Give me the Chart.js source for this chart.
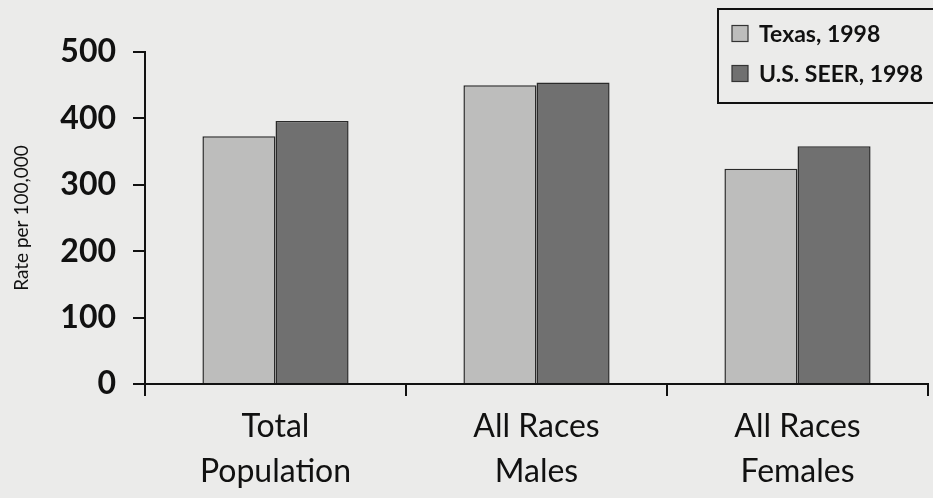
<!DOCTYPE html>
<html>
<head>
<meta charset="utf-8">
<script src="https://cdn.jsdelivr.net/npm/chart.js@4.4.1/dist/chart.umd.min.js"></script>
<style>
  html, body { margin: 0; padding: 0; background: #ebebea; overflow: hidden; }
  #wrap { width: 933px; height: 498px; }
</style>
</head>
<body>
<div id="wrap"><canvas id="c" width="933" height="498"></canvas></div>
<script>
const categories = [["Total", "Population"], ["All Races", "Males"], ["All Races", "Females"]];
const seriesNames = ["Texas, 1998", "U.S. SEER, 1998"];
const texasValues = [373, 450, 324];
const seerValues = [396, 454, 358];
const yTicks = [0, 100, 200, 300, 400, 500];
const yTitle = "Rate per 100,000";

const FONT = "Lato, 'Open Sans', sans-serif";
const INK = "#111111";

const bgPlugin = {
  id: "bg",
  beforeDraw(chart) {
    const ctx = chart.ctx;
    ctx.save();
    ctx.fillStyle = "#ebebea";
    ctx.fillRect(0, 0, chart.width, chart.height);
    ctx.restore();
  }
};

const legendBox = {
  id: "legendBox",
  afterDraw(chart) {
    const ctx = chart.ctx;
    ctx.save();
    ctx.fillStyle = "#ebebea";
    ctx.fillRect(718, 9, 260, 94);
    ctx.strokeStyle = INK;
    ctx.lineWidth = 2;
    ctx.beginPath();
    ctx.moveTo(chart.width + 5, 9);
    ctx.lineTo(718, 9);
    ctx.lineTo(718, 103);
    ctx.lineTo(chart.width + 5, 103);
    ctx.stroke();
    chart.data.datasets.forEach((ds, i) => {
      const cy = 33.5 + i * 40;
      ctx.fillStyle = ds.backgroundColor;
      ctx.fillRect(732, cy - 8, 16, 16);
      ctx.strokeStyle = "#333";
      ctx.lineWidth = 1.2;
      ctx.strokeRect(732, cy - 8, 16, 16);
      ctx.fillStyle = INK;
      ctx.font = "bold 23px " + FONT;
      ctx.textBaseline = "middle";
      ctx.textAlign = "left";
      ctx.fillText(ds.label, 759, cy + 1);
    });
    ctx.restore();
  }
};

new Chart(document.getElementById("c"), {
  type: "bar",
  data: {
    labels: categories,
    datasets: [
      { label: seriesNames[0], data: texasValues, backgroundColor: "#bdbdbc", borderColor: "#2a2a2a", borderWidth: 1.5 },
      { label: seriesNames[1], data: seerValues, backgroundColor: "#707070", borderColor: "#2a2a2a", borderWidth: 1.5 }
    ]
  },
  options: {
    responsive: false,
    animation: false,
    layout: { padding: { top: 52, right: 5, left: 0, bottom: 0 } },
    datasets: { bar: { categoryPercentage: 0.56, barPercentage: 1.0 } },
    plugins: { legend: { display: false }, tooltip: { enabled: false } },
    scales: {
      x: {
        offset: true,
        grid: { offset: true, drawOnChartArea: false, drawTicks: true, tickLength: 12, color: INK, lineWidth: 2 },
        border: { display: true, color: INK, width: 2 },
        ticks: { color: INK, font: { family: FONT, size: 32, lineHeight: 1.4 }, padding: 8, maxRotation: 0, autoSkip: false },
        afterFit(scale) { scale.height = 114; }
      },
      y: {
        min: 0,
        max: 500,
        afterBuildTicks(scale) { scale.ticks = yTicks.map(v => ({ value: v })); },
        grid: { drawOnChartArea: false, drawTicks: true, tickLength: 12, color: INK, lineWidth: 2 },
        border: { display: true, color: INK, width: 2 },
        ticks: { color: INK, font: { family: FONT, size: 32, weight: "bold" }, padding: 17 },
        title: { display: true, text: yTitle, color: INK, font: { family: FONT, size: 19 }, padding: { top: 10, bottom: 0 } },
        afterFit(scale) { scale.width = 145; }
      }
    }
  },
  plugins: [bgPlugin, legendBox]
});
</script>
</body>
</html>
